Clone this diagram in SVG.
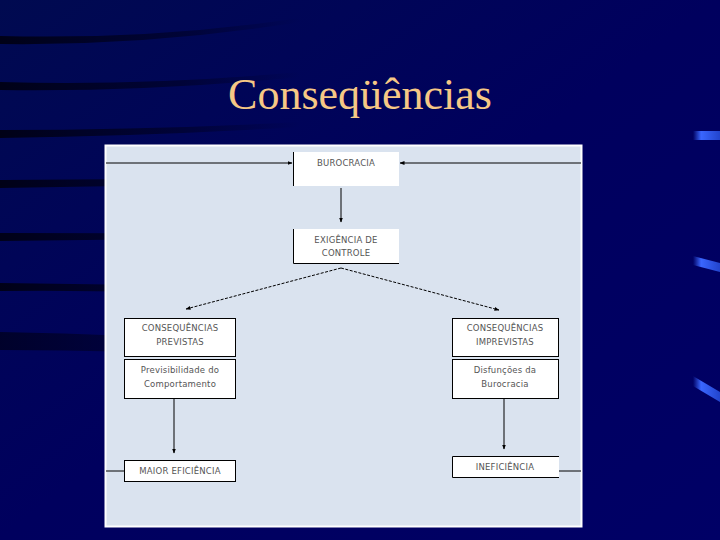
<svg xmlns="http://www.w3.org/2000/svg" width="720" height="540" viewBox="0 0 720 540">
<defs>
<linearGradient id="bg" x1="0" y1="0" x2="1" y2="1">
<stop offset="0" stop-color="#000a50"/>
<stop offset="0.5" stop-color="#00005e"/>
<stop offset="1" stop-color="#000066"/>
</linearGradient>
<linearGradient id="sw" x1="0" y1="0" x2="1" y2="0">
<stop offset="0" stop-color="#000010" stop-opacity="0.9"/>
<stop offset="0.6" stop-color="#000018" stop-opacity="0.5"/>
<stop offset="1" stop-color="#000020" stop-opacity="0"/>
</linearGradient>
<linearGradient id="st" x1="0" y1="0" x2="1" y2="0">
<stop offset="0" stop-color="#3a66ff" stop-opacity="0"/>
<stop offset="0.3" stop-color="#3a66ff"/>
<stop offset="1" stop-color="#2244cc"/>
</linearGradient>
<marker id="ah" viewBox="0 0 10 10" refX="9" refY="5" markerWidth="5" markerHeight="5" orient="auto">
<path d="M0,1 L10,5 L0,9 Z" fill="#000"/>
</marker>
<style>
.box{fill:#fff;stroke:#000;stroke-width:1}
.t{font-family:"DejaVu Sans","Liberation Sans",sans-serif;font-size:8.5px;fill:#555;text-anchor:middle;letter-spacing:0.2px}
.ln{stroke:#000;stroke-width:1;fill:none}
.dl{stroke:#000;stroke-width:1;fill:none;stroke-dasharray:3,1.5}
</style>
</defs>
<rect width="720" height="540" fill="url(#bg)"/>
<g id="background">
<path d="M0,36 Q150,40 300,18 L300,22 Q150,46 0,44 Z" fill="url(#sw)"/>
<path d="M0,82 Q150,86 300,72 L300,77 Q150,92 0,90 Z" fill="url(#sw)"/>
<path d="M0,130 Q150,130 300,122 L300,127 Q150,136 0,138 Z" fill="url(#sw)"/>
<path d="M0,180 Q150,180 300,176 L300,181 Q150,186 0,188 Z" fill="url(#sw)"/>
<path d="M0,233 Q150,233 300,234 L300,239 Q150,239 0,241 Z" fill="url(#sw)"/>
<path d="M0,283 Q150,284 300,290 L300,296 Q150,290 0,291 Z" fill="url(#sw)"/>
<path d="M0,332 Q150,334 300,348 L300,360 Q150,350 0,350 Z" fill="url(#sw)" opacity="0.7"/>
<path d="M693,131 L720,131 L720,140 L693,140 Z" fill="url(#st)"/>
<path d="M693,256 L720,263 L720,272 L693,265 Z" fill="url(#st)"/>
<path d="M693,376 L720,392 L720,402 L693,386 Z" fill="url(#st)"/>
</g>
<text x="360" y="109" font-family="'Liberation Serif','Times New Roman',serif" font-size="44" fill="#f6c885" text-anchor="middle">Conseqüências</text>
<g id="panel">
<rect x="105.5" y="145.5" width="476" height="381" fill="#dae3ef" stroke="#ffffff" stroke-width="2"/>
</g>
<g id="connectors">
<line class="ln" x1="106" y1="163" x2="292" y2="163" marker-end="url(#ah)"/>
<line class="ln" x1="581" y1="163" x2="400" y2="163" marker-end="url(#ah)"/>
<line class="ln" x1="341" y1="188" x2="341" y2="222" marker-end="url(#ah)"/>
<line class="dl" x1="341" y1="268" x2="186" y2="309" marker-end="url(#ah)"/>
<line class="dl" x1="341" y1="268" x2="499" y2="310" marker-end="url(#ah)"/>
<line class="ln" x1="174" y1="399" x2="174" y2="453" marker-end="url(#ah)"/>
<line class="ln" x1="504" y1="399" x2="504" y2="449" marker-end="url(#ah)"/>
<line class="ln" x1="106" y1="471" x2="124" y2="471"/>
<line class="ln" x1="559" y1="471" x2="581" y2="471"/>
</g>
<g id="burocracia">
<rect x="293" y="152" width="106" height="34" fill="#fff"/>
<line class="ln" x1="293.5" y1="152" x2="293.5" y2="186"/>
<text class="t" x="346" y="166">BUROCRACIA</text>
</g>
<g id="exigencia">
<rect x="293" y="229" width="106" height="35" fill="#fff"/>
<path class="ln" d="M293.5,229 V263.5 H399"/>
<text class="t" x="346" y="243">EXIGÊNCIA DE</text>
<text class="t" x="346" y="256">CONTROLE</text>
</g>
<g id="previstas">
<rect class="box" x="124.5" y="318.5" width="111" height="38"/>
<text class="t" x="180" y="331">CONSEQUÊNCIAS</text>
<text class="t" x="180" y="345">PREVISTAS</text>
</g>
<g id="previsibilidade">
<rect class="box" x="124.5" y="359.5" width="111" height="39"/>
<text class="t" x="180" y="373">Previsibilidade do</text>
<text class="t" x="180" y="387">Comportamento</text>
</g>
<g id="imprevistas">
<rect class="box" x="452.5" y="318.5" width="106" height="38"/>
<text class="t" x="505" y="331">CONSEQUÊNCIAS</text>
<text class="t" x="505" y="345">IMPREVISTAS</text>
</g>
<g id="disfuncoes">
<rect class="box" x="452.5" y="359.5" width="106" height="39"/>
<text class="t" x="505" y="373">Disfunções da</text>
<text class="t" x="505" y="387">Burocracia</text>
</g>
<g id="maior-eficiencia">
<rect class="box" x="124.5" y="460.5" width="111" height="21"/>
<text class="t" x="180" y="474">MAIOR EFICIÊNCIA</text>
</g>
<g id="ineficiencia">
<rect x="452" y="456" width="107" height="22" fill="#fff"/>
<path class="ln" d="M559,456.5 H452.5 V477.5 H559"/>
<text class="t" x="505" y="470">INEFICIÊNCIA</text>
</g>
</svg>
